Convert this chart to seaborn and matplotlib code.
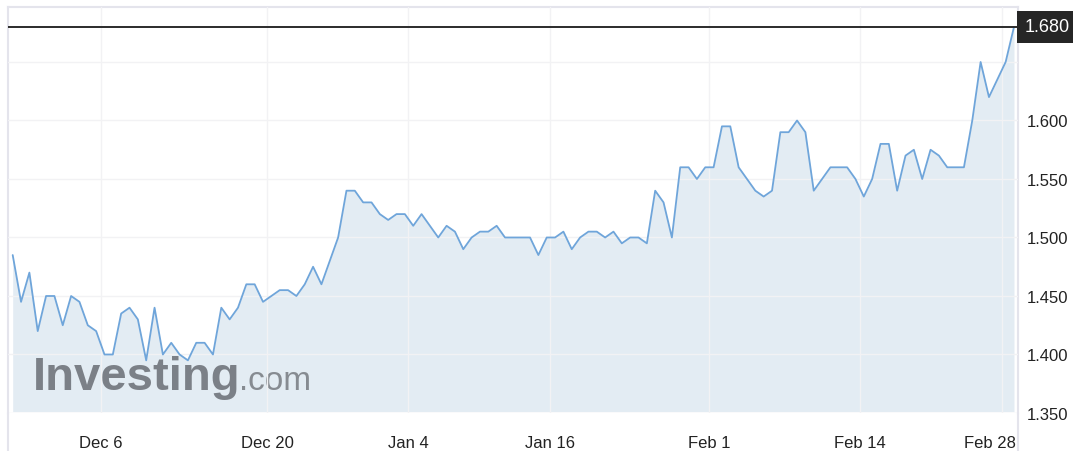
import pandas as pd
import matplotlib.pyplot as plt
import matplotlib.transforms as mtransforms
from matplotlib.lines import Line2D
import seaborn as sns

# Daily prices (Dec -> Feb 28)
prices = [
    1.485, 1.445, 1.470, 1.420, 1.450, 1.450, 1.425, 1.450, 1.445, 1.425,
    1.420, 1.400, 1.400, 1.435, 1.440, 1.430, 1.395, 1.440, 1.400, 1.410,
    1.400, 1.395, 1.410, 1.410, 1.400, 1.440, 1.430, 1.440, 1.460, 1.460,
    1.445, 1.450, 1.455, 1.455, 1.450, 1.460, 1.475, 1.460, 1.480, 1.500,
    1.540, 1.540, 1.530, 1.530, 1.520, 1.515, 1.520, 1.520, 1.510, 1.520,
    1.510, 1.500, 1.510, 1.505, 1.490, 1.500, 1.505, 1.505, 1.510, 1.500,
    1.500, 1.500, 1.500, 1.485, 1.500, 1.500, 1.505, 1.490, 1.500, 1.505,
    1.505, 1.500, 1.505, 1.495, 1.500, 1.500, 1.495, 1.540, 1.530, 1.500,
    1.560, 1.560, 1.550, 1.560, 1.560, 1.595, 1.595, 1.560, 1.550, 1.540,
    1.535, 1.540, 1.590, 1.590, 1.600, 1.590, 1.540, 1.550, 1.560, 1.560,
    1.560, 1.550, 1.535, 1.550, 1.580, 1.580, 1.540, 1.570, 1.575, 1.550,
    1.575, 1.570, 1.560, 1.560, 1.560, 1.600, 1.650, 1.620, 1.635, 1.650,
    1.680,
]
date_labels = ['Dec 6', 'Dec 20', 'Jan 4', 'Jan 16', 'Feb 1', 'Feb 14', 'Feb 28']
date_pos = [10.58, 30.48, 47.37, 64.39, 83.45, 101.55, 118.56]
price_ticks = [1.35, 1.40, 1.45, 1.50, 1.55, 1.60, 1.65]
price_labels = ['1.350', '1.400', '1.450', '1.500', '1.550', '1.600', '']

df = pd.DataFrame({'idx': range(len(prices)), 'price': prices})
last_price = prices[-1]

sns.set_theme(style='white')
plt.rcParams['font.family'] = ['Liberation Sans', 'DejaVu Sans']

W, H = 1073, 452
fig = plt.figure(figsize=(W / 100, H / 100), dpi=100)
ax = fig.add_axes([8 / W, 1 - 414 / H, 1010 / W, 406 / H])

ymin, ymax = 1.3512, 1.697
ax.fill_between(df['idx'], df['price'], ymin, color='#e3ecf3', lw=0, zorder=1)
sns.lineplot(data=df, x='idx', y='price', ax=ax, color='#6fa5da',
             linewidth=1.3, zorder=3)
ax.axhline(last_price, color='#2b2b2b', lw=1.4, zorder=4)

# watermark
ax.text(0.0248, 0.059, 'Investing', transform=ax.transAxes, fontsize=34,
        fontweight='bold', color='#7b8087', va='baseline', zorder=2)
ax.text(0.2285, 0.059, '.com', transform=ax.transAxes, fontsize=24,
        color='#868b91', va='baseline', zorder=2)

ax.set_xlim(-0.563, len(prices) - 1 + 0.48)
ax.set_ylim(ymin, ymax)
ax.set_xlabel('')
ax.set_ylabel('')

ax.set_xticks(date_pos)
ax.set_xticklabels(date_labels)
ax.yaxis.tick_right()
ax.set_yticks(price_ticks)
ax.set_yticklabels(price_labels)
ax.tick_params(axis='x', length=0, pad=16, labelsize=12, labelcolor='#222222')
ax.tick_params(axis='y', length=0, pad=6.5, labelsize=12, labelcolor='#222222')

# last label sits a bit left of its gridline
shift = mtransforms.ScaledTranslation(-12 / 100, 0, fig.dpi_scale_trans)
lbl = ax.get_xticklabels()[-1]
lbl.set_transform(lbl.get_transform() + shift)

ax.set_axisbelow(False)
ax.grid(True, color='#f2f2f4', lw=1)

for side in ['left', 'right', 'top']:
    ax.spines[side].set_color('#e4e4ec')
    ax.spines[side].set_linewidth(1.5)
ax.spines['bottom'].set_visible(False)
for xpx in [8, 1018]:
    fig.add_artist(Line2D([xpx / W, xpx / W], [0, 1 - 414 / H],
                          transform=fig.transFigure, color='#e4e4ec', lw=1.5))

# current price box
trans = mtransforms.blended_transform_factory(ax.transAxes, ax.transData)
ax.text(1.0065, last_price, '1.680', transform=trans, ha='left', va='center',
        color='white', fontsize=13, clip_on=False, zorder=5,
        bbox=dict(boxstyle='square,pad=0.42', fc='#262626', ec='none'))

fig.savefig('out.png', dpi=100)
plt.close()
